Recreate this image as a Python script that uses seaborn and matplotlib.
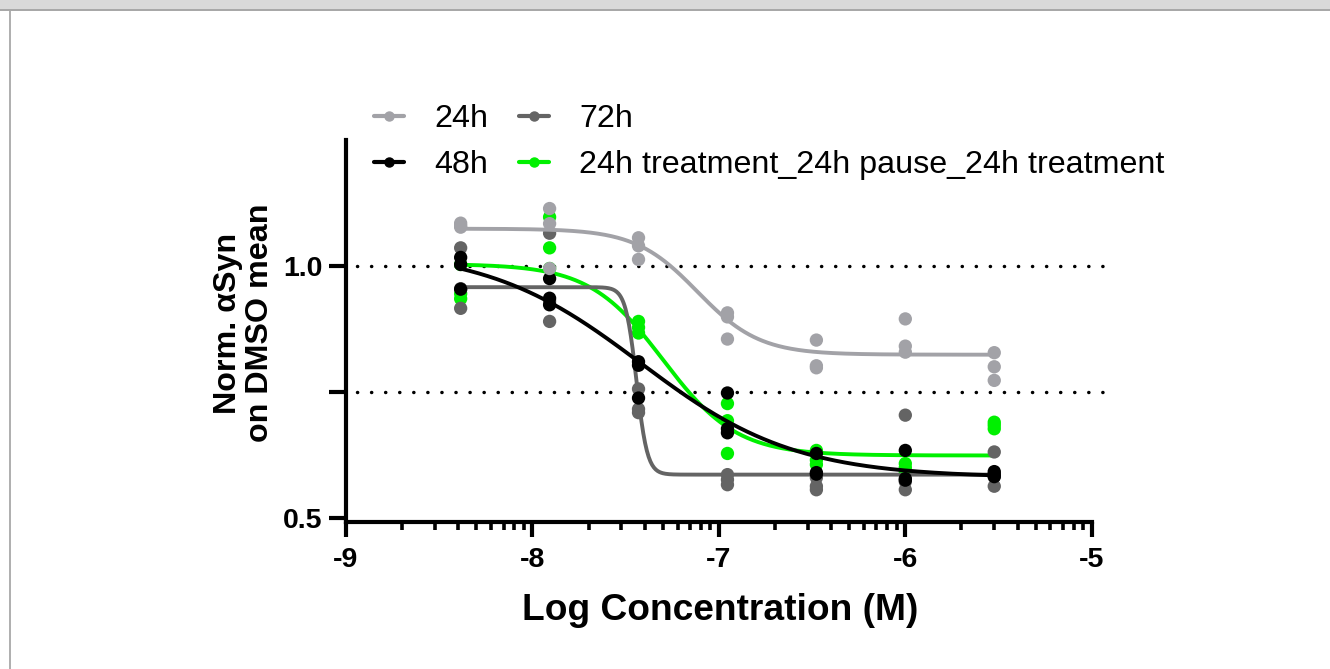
import numpy as np
import pandas as pd
import seaborn as sns
import matplotlib
matplotlib.use("Agg")
import matplotlib.pyplot as plt
from matplotlib.lines import Line2D
from matplotlib.patches import Rectangle

# ---------------- data ----------------
log_conc = [-8.385, -7.908, -7.431, -6.954, -6.477, -6.000, -5.523]

series_names = ["24h", "48h", "72h", "24h treatment_24h pause_24h treatment"]

vals_24h = [[1.085, 1.080, 1.077], [1.114, 1.084, 0.995], [1.056, 1.040, 1.013],
            [0.907, 0.899, 0.855], [0.853, 0.802, 0.798], [0.895, 0.841, 0.829],
            [0.828, 0.800, 0.773]]
vals_48h = [[1.017, 1.003, 0.954], [0.975, 0.936, 0.923], [0.810, 0.803, 0.738],
            [0.748, 0.677, 0.669], [0.628, 0.590, 0.587], [0.634, 0.578, 0.575],
            [0.592, 0.587, 0.582]]
vals_72h = [[1.036, 0.955, 0.916], [1.065, 0.930, 0.890], [0.756, 0.716, 0.709],
            [0.586, 0.576, 0.566], [0.580, 0.563, 0.556], [0.704, 0.572, 0.556],
            [0.631, 0.582, 0.563]]
vals_pause = [[1.003, 0.945, 0.935], [1.097, 1.036, 0.995], [0.890, 0.878, 0.867],
              [0.727, 0.693, 0.628], [0.634, 0.615, 0.606], [0.608, 0.600, 0.592],
              [0.690, 0.684, 0.677]]

# 4-parameter logistic fit parameters (top, bottom, logIC50, hill)
fit_24h = [1.074, 0.824, -7.115, 2.6]
fit_48h = [1.035, 0.580, -7.42, 1.05]
fit_72h = [0.958, 0.586, -7.442, 15.0]
fit_pause = [1.004, 0.624, -7.30, 2.2]

colors = ["#A2A2A7", "#000000", "#646464", "#00F000"]

all_vals = [vals_24h, vals_48h, vals_72h, vals_pause]
all_fits = [fit_24h, fit_48h, fit_72h, fit_pause]

rows = []
for name, vals in zip(series_names, all_vals):
    for x, reps in zip(log_conc, vals):
        for v in reps:
            rows.append({"series": name, "logc": x, "y": v})
df_pts = pd.DataFrame(rows)

xs = np.linspace(log_conc[0], log_conc[-1], 600)
crows = []
for name, (top, bot, ic, h) in zip(series_names, all_fits):
    ys = bot + (top - bot) / (1 + 10 ** ((xs - ic) * h))
    for x, y in zip(xs, ys):
        crows.append({"series": name, "logc": x, "y": y})
df_fit = pd.DataFrame(crows)

# ---------------- figure ----------------
sns.set_theme(style="white")
plt.rcParams["font.family"] = ["Liberation Sans", "DejaVu Sans"]
plt.rcParams["text.color"] = "black"
plt.rcParams["axes.labelcolor"] = "black"
plt.rcParams["xtick.color"] = "black"
plt.rcParams["ytick.color"] = "black"

fs_tick = 20.5
fs_legend = 23.2
fs_xlabel = 26.7
fs_ylabel = 23.2

W, H = 1330, 669
fig = plt.figure(figsize=(W / 100, H / 100), dpi=100)

# screenshot frame
fig.add_artist(Rectangle((0, 1 - 9 / H), 1, 9 / H, transform=fig.transFigure,
                         facecolor="#D9D9D9", edgecolor="none"))
fig.add_artist(Rectangle((0, 1 - 11 / H), 1, 2 / H, transform=fig.transFigure,
                         facecolor="#A8A8A8", edgecolor="none"))
fig.add_artist(Rectangle((9 / W, 0), 2 / W, 1 - 11 / H, transform=fig.transFigure,
                         facecolor="#B0B0B0", edgecolor="none"))

ax_left, ax_right = 346, 1116
ax_top, ax_bottom = 140, 522
ax = fig.add_axes([ax_left / W, 1 - ax_bottom / H, (ax_right - ax_left) / W,
                   (ax_bottom - ax_top) / H])

xmin, xmax = -9.0, -4.87
ymin, ymax = 0.492, 1.25
ax.set_xlim(xmin, xmax)
ax.set_ylim(ymin, ymax)

# reference dotted lines
for yref in [1.0, 0.75]:
    ax.hlines(yref, -8.94, -4.88, colors="black", linewidth=2.5,
              linestyles=(0, (0.05, 4.0)), zorder=1)
for c in ax.collections:
    c.set_capstyle("round")

draw_order = [3, 2, 1, 0]
z = 2
for i in draw_order:
    name = series_names[i]
    sns.lineplot(data=df_fit[df_fit.series == name], x="logc", y="y", ax=ax,
                 color=colors[i], linewidth=2.8, zorder=z, legend=False,
                 estimator=None, sort=True)
    z += 1
    sns.scatterplot(data=df_pts[df_pts.series == name], x="logc", y="y", ax=ax,
                    color=colors[i], s=92, edgecolor="none", linewidth=0,
                    zorder=z, legend=False)
    z += 1

# axes styling
for s in ["top", "right"]:
    ax.spines[s].set_visible(False)
for s in ["left", "bottom"]:
    ax.spines[s].set_linewidth(3.0)
    ax.spines[s].set_color("black")
    ax.spines[s].set_capstyle("projecting")
ax.spines["left"].set_bounds(ymin, ymax)
ax.spines["bottom"].set_bounds(-9, -5)

major_x = [-9, -8, -7, -6, -5]
major_x_labels = ["-9", "-8", "-7", "-6", "-5"]
minor_x = [d + np.log10(m) for d in [-9, -8, -7, -6] for m in range(2, 10)]
ax.set_xticks(major_x)
ax.set_xticklabels(major_x_labels, fontsize=fs_tick, fontweight="bold")
ax.set_xticks(minor_x, minor=True)

y_ticks = [0.5, 0.75, 1.0]
y_tick_labels = ["0.5", "", "1.0"]
ax.set_yticks(y_ticks)
ax.set_yticklabels(y_tick_labels, fontsize=fs_tick, fontweight="bold")

ax.tick_params(axis="x", which="major", direction="out", length=11, width=3.0,
               pad=7, bottom=True)
ax.tick_params(axis="x", which="minor", direction="out", length=6, width=2.6,
               bottom=True)
ax.tick_params(axis="y", which="major", direction="out", length=12, width=3.0,
               pad=5, left=True)
ax.grid(False)

ax.set_xlabel("Log Concentration (M)", fontsize=fs_xlabel, fontweight="bold")
ax.xaxis.set_label_coords((720 - ax_left) / (ax_right - ax_left),
                          -(593 - ax_bottom) / (ax_bottom - ax_top))
ax.set_ylabel("Norm. αSyn\non DMSO mean", fontsize=fs_ylabel, fontweight="bold",
              linespacing=1.08)
ax.yaxis.set_label_coords(-(ax_left - 275) / (ax_right - ax_left),
                          (ax_bottom - 323) / (ax_bottom - ax_top))

# legend
handles = [Line2D([], [], color=colors[i], linewidth=3.0, marker="o",
                  markersize=6.5) for i in range(4)]
fig.legend(handles, series_names, ncol=2, loc="upper left",
           bbox_to_anchor=(374 / W, 1 - 104 / H), frameon=False,
           fontsize=fs_legend, handlelength=0.93, handletextpad=0.93,
           columnspacing=0.97, labelspacing=0.5, borderpad=0, borderaxespad=0)

fig.savefig("out.png", dpi=100)
